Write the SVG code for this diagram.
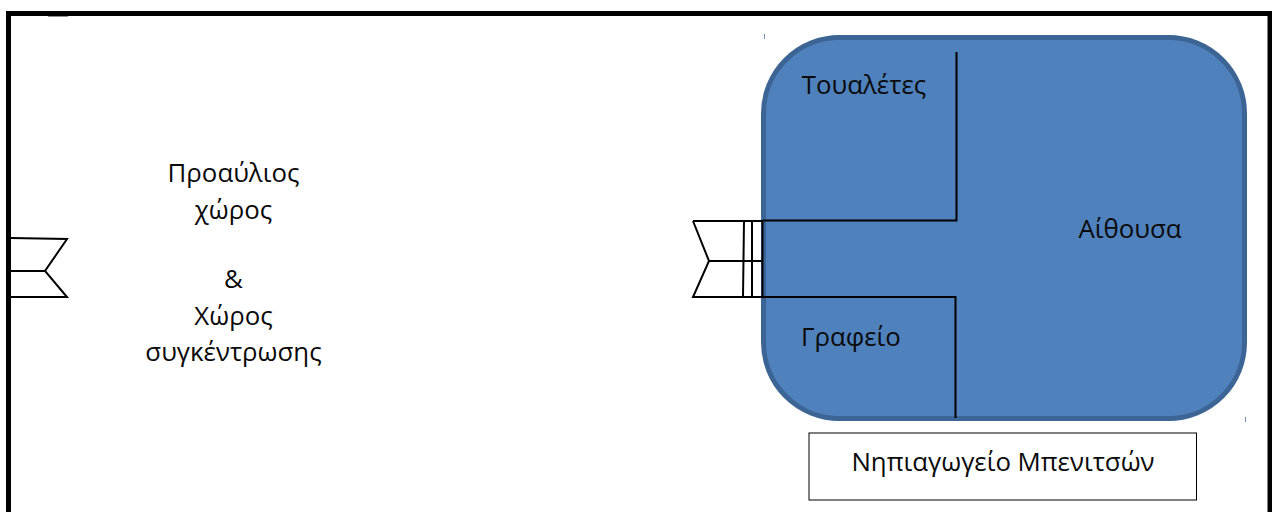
<svg xmlns="http://www.w3.org/2000/svg" width="1272" height="512" viewBox="0 0 1272 512">
<style>
text{font-family:"Open Sans","Noto Sans","DejaVu Sans",sans-serif;font-size:25.800px;fill:#0a0a0a;text-anchor:middle}
.l{fill:none;stroke:#000;stroke-width:2}
.tick{fill:none;stroke:#6f8fb5;stroke-width:1}
</style>
<rect width="1272" height="512" fill="#fff"/>
<g id="frame"><path d="M8.500 514V13.500H1270V514" fill="none" stroke="#000" stroke-width="5"/><path d="M48 16.500H68" stroke="#000" stroke-width="1" stroke-opacity=".45"/></g>
<g id="classroom">
<rect x="763.500" y="37.500" width="481" height="381" rx="76" ry="76" fill="#4f81bd" stroke="#3c6494" stroke-width="5"/>
<path class="tick" d="M764.500 34V39M1245.500 417V422"/>
</g>
<g id="connectors">
<path class="l" d="M956.500 52V220.500H763M763 297H955.500V418"/>
</g>
<g id="left-gate"><path class="l" d="M11 238L67 239L45 271L67 297H11M11 271H45"/></g>
<g id="right-gate"><path class="l" d="M693 221H763M693 221L709 261L693 297H763M709 261H763M744 221L743 297M752 221V297M762.500 221V297"/></g>
<g id="label-forecourt">
<text x="233.500" y="182">Προαύλιος</text>
<text x="233.500" y="219">χώρος</text>
<text x="233.500" y="288">&amp;</text>
<text x="233.500" y="325">Χώρος</text>
<text x="233.500" y="361">συγκέντρωσης</text>
</g>
<g id="label-toilets"><text x="864" y="94">Τουαλέτες</text></g>
<g id="label-room"><text x="1130" y="238">Αίθουσα</text></g>
<g id="label-office"><text x="851" y="346">Γραφείο</text></g>
<g id="label-school"><rect x="809" y="433" width="387.500" height="67" fill="#fff" stroke="#000" stroke-width="1"/><text x="1003" y="471">Νηπιαγωγείο Μπενιτσών</text></g>
</svg>
